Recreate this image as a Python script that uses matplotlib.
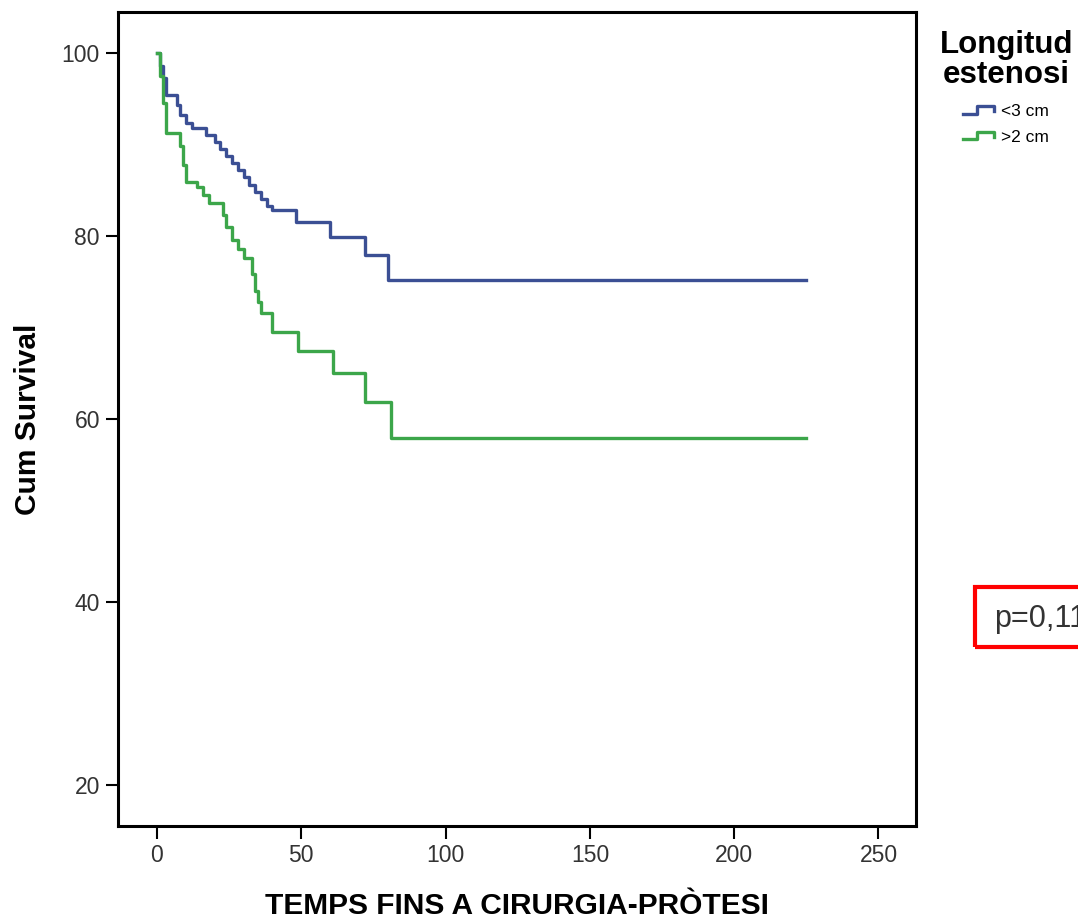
import matplotlib
matplotlib.use("Agg")
import matplotlib.pyplot as plt
from matplotlib.legend_handler import HandlerBase
from matplotlib.lines import Line2D
from matplotlib.patches import Rectangle

# Kaplan-Meier steps
blue_t = [0, 1, 2, 3, 7, 8, 10, 12, 17, 20, 22, 24, 26, 28, 30, 32, 34, 36, 38, 40, 48, 60, 72, 80, 225]
blue_s = [100, 98.6, 97.3, 95.4, 94.3, 93.2, 92.4, 91.8, 91.0, 90.3, 89.5, 88.8, 88.0, 87.2,
          86.4, 85.6, 84.8, 84.0, 83.3, 82.8, 81.5, 79.9, 77.9, 75.2, 75.2]

green_t = [0, 1, 2, 3, 8, 9, 10, 14, 16, 18, 23, 24, 26, 28, 30, 33, 34, 35, 36, 40, 49, 61, 72, 81, 225]
green_s = [100, 97.5, 94.5, 91.3, 89.8, 87.8, 85.9, 85.4, 84.5, 83.6, 82.3, 81.0, 79.6, 78.6, 77.6,
           75.8, 74.0, 72.8, 71.6, 69.5, 67.4, 65.0, 61.9, 57.9, 57.9]

labels = ["<3 cm", ">2 cm"]
colors = ["#3b4f94", "#3ca64a"]
x_ticks = [0, 50, 100, 150, 200, 250]
y_ticks = [20, 40, 60, 80, 100]

tick_font = ["Liberation Sans Narrow", "Liberation Sans", "DejaVu Sans"]


class StepHandler(HandlerBase):
    # small step-shaped legend icon like in SPSS
    def create_artists(self, legend, orig_handle, xdescent, ydescent, width, height, fontsize, trans):
        x = [0, width * 0.4, width * 0.4, width * 0.9, width * 0.9]
        y = [height * 0.2, height * 0.2, height * 0.8, height * 0.8, height * 0.4]
        ln = Line2D(x, y, color=orig_handle.get_color(), lw=orig_handle.get_linewidth(),
                    transform=trans)
        return [ln]


fig = plt.figure(figsize=(10.78, 9.18), dpi=100)
ax = fig.add_axes([0.1095, 0.1002, 0.7402, 0.8868])

handles = []
for t, s, c in zip([blue_t, green_t], [blue_s, green_s], colors):
    h, = ax.step(t, s, where="post", color=c, lw=2.4)
    handles.append(h)

ax.set_xlim(-13.5, 263)
ax.set_ylim(15.5, 104.5)
ax.set_xticks(x_ticks)
ax.set_yticks(y_ticks)
for sp in ax.spines.values():
    sp.set_linewidth(2.2)
ax.tick_params(length=9, width=1.5, colors="black", labelcolor="#333333", labelsize=16.5, pad=4)
for lab in ax.get_xticklabels() + ax.get_yticklabels():
    lab.set_family(tick_font)

ax.set_xlabel("TEMPS FINS A CIRURGIA-PRÒTESI", fontsize=21.5, fontweight="bold",
              family=tick_font, labelpad=18)
ax.set_ylabel("Cum Survival", fontsize=21.5, fontweight="bold", family=tick_font, labelpad=14)

leg = fig.legend(handles, labels, title="Longitud\nestenosi", loc="upper left",
                 bbox_to_anchor=(0.865, 0.975), frameon=False,
                 prop={"family": tick_font, "size": 12.5},
                 handler_map={Line2D: StepHandler()}, handlelength=2.0, handletextpad=0.2,
                 labelspacing=0.6, borderaxespad=0)
leg.get_title().set_fontsize(22.5)
leg.get_title().set_fontweight("bold")
leg.get_title().set_family(tick_font)
leg.get_title().set_multialignment("center")
leg.get_title().set_linespacing(1.0)
leg._legend_box.align = "center"
leg._legend_box.sep = 10

# p-value box, cut by the right border like in the original
fig.patches.append(Rectangle((975 / 1078, 1 - 647 / 918), 0.2, 60 / 918,
                             transform=fig.transFigure, fill=False, edgecolor="#ff0000", lw=3))
fig.text(994 / 1078, 1 - 619 / 918, "p=0,11", fontsize=22, color="#333333",
         va="center", ha="left", family=["Liberation Sans", "DejaVu Sans"])

fig.savefig("out.png", dpi=100)
